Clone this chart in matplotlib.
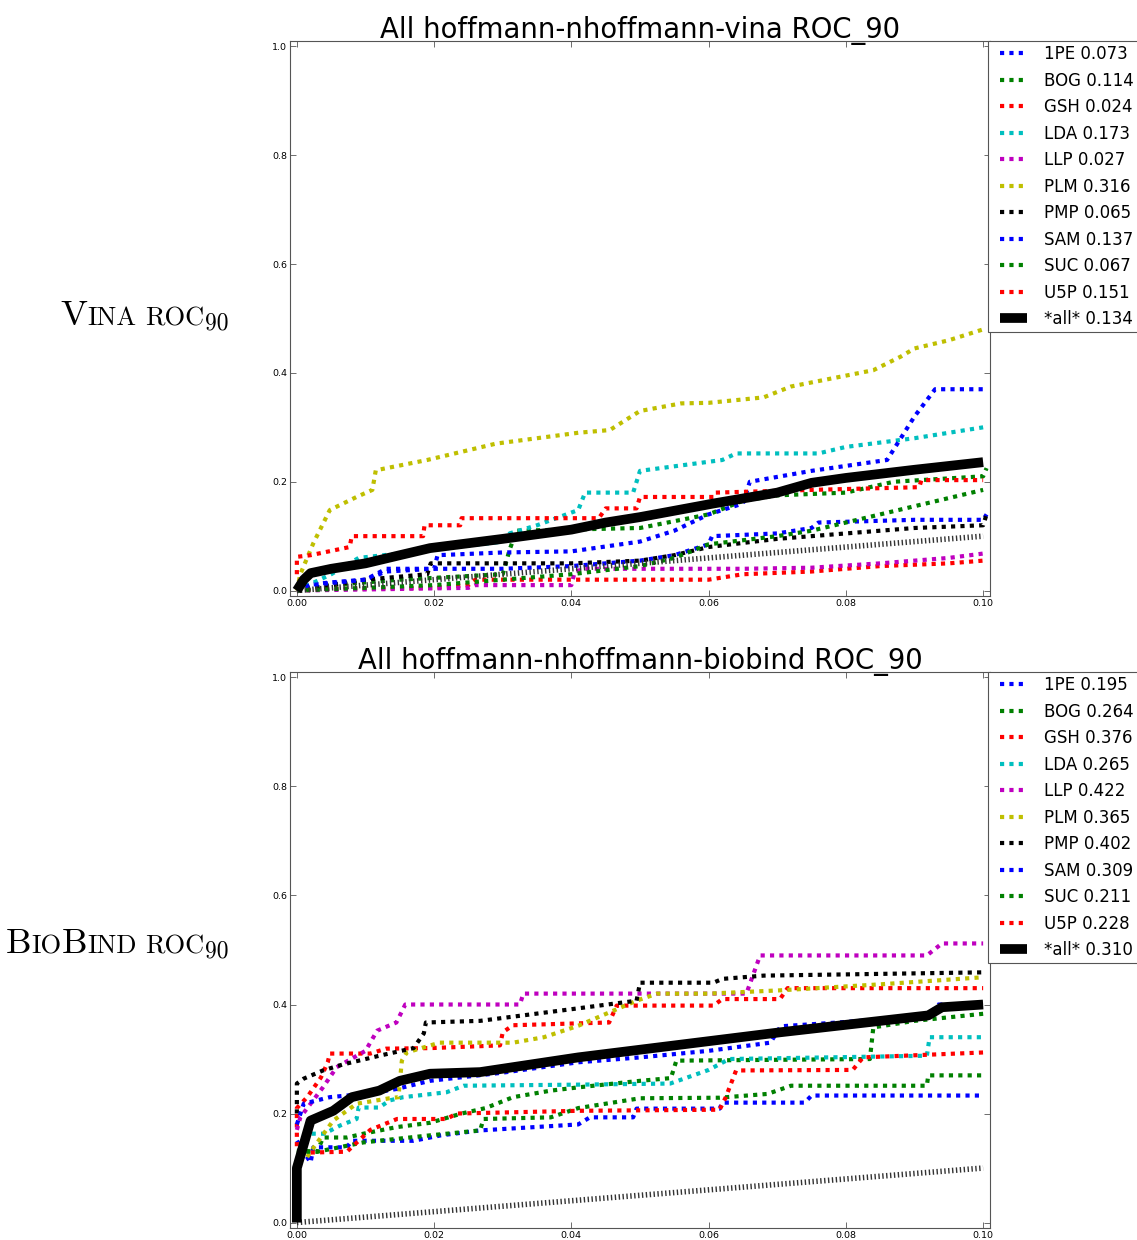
import matplotlib
matplotlib.use("Agg")
import matplotlib.pyplot as plt
from matplotlib.transforms import IdentityTransform
from matplotlib.legend_handler import HandlerLine2D
from matplotlib.lines import Line2D

# ---------------- data ----------------
names = ["1PE", "BOG", "GSH", "LDA", "LLP", "PLM", "PMP", "SAM", "SUC", "U5P"]
colors = ["#0000ff", "#008000", "#ff0000", "#00bfbf", "#bf00bf",
          "#bfbf00", "#000000", "#0000ff", "#008000", "#ff0000"]
vina_scores = [0.073, 0.114, 0.024, 0.173, 0.027, 0.316, 0.065, 0.137, 0.067, 0.151]
vina_all_score = 0.134
bio_scores = [0.195, 0.264, 0.376, 0.265, 0.422, 0.365, 0.402, 0.309, 0.211, 0.228]
bio_all_score = 0.310

xticks = [0.00, 0.02, 0.04, 0.06, 0.08, 0.10]
yticks = [0.0, 0.2, 0.4, 0.6, 0.8, 1.0]

# --- vina curves ---
vina_1PE_x = [0, 0.001, 0.005, 0.01, 0.013, 0.02, 0.03, 0.04, 0.045, 0.05, 0.055, 0.06, 0.0605, 0.07, 0.075, 0.076, 0.09, 0.1, 0.1005]
vina_1PE_y = [0, 0.01, 0.015, 0.02, 0.035, 0.04, 0.04, 0.045, 0.05, 0.055, 0.065, 0.085, 0.1, 0.105, 0.115, 0.125, 0.13, 0.13, 0.14]
vina_BOG_x = [0, 0.005, 0.015, 0.03, 0.031, 0.032, 0.05, 0.06, 0.065, 0.07, 0.08, 0.087, 0.1, 0.1005]
vina_BOG_y = [0, 0.01, 0.02, 0.03, 0.075, 0.11, 0.115, 0.14, 0.165, 0.175, 0.18, 0.2, 0.21, 0.225]
vina_GSH_x = [0, 0.005, 0.02, 0.025, 0.026, 0.06, 0.065, 0.075, 0.085, 0.095, 0.1]
vina_GSH_y = [0, 0.003, 0.005, 0.01, 0.02, 0.02, 0.03, 0.035, 0.045, 0.05, 0.055]
vina_LDA_x = [0, 0.005, 0.009, 0.02, 0.03, 0.031, 0.035, 0.041, 0.042, 0.049, 0.05, 0.062, 0.064, 0.076, 0.08, 0.09, 0.1]
vina_LDA_y = [0, 0.03, 0.06, 0.075, 0.09, 0.105, 0.12, 0.148, 0.18, 0.18, 0.22, 0.24, 0.252, 0.252, 0.264, 0.28, 0.30]
vina_LLP_x = [0, 0.01, 0.025, 0.026, 0.04, 0.0405, 0.042, 0.065, 0.075, 0.085, 0.095, 0.1]
vina_LLP_y = [0, 0.002, 0.005, 0.01, 0.01, 0.035, 0.04, 0.04, 0.042, 0.05, 0.06, 0.068]
vina_PLM_x = [0, 0.0005, 0.0024, 0.0048, 0.0087, 0.011, 0.0115, 0.019, 0.029, 0.041, 0.0456, 0.05, 0.056, 0.06, 0.068, 0.072, 0.078, 0.084, 0.088, 0.09, 0.095, 0.1]
vina_PLM_y = [0, 0.03, 0.087, 0.148, 0.172, 0.185, 0.221, 0.24, 0.27, 0.29, 0.295, 0.33, 0.344, 0.345, 0.355, 0.375, 0.39, 0.405, 0.43, 0.445, 0.46, 0.48]
vina_PMP_x = [0, 0.005, 0.01, 0.019, 0.0195, 0.04, 0.05, 0.055, 0.06, 0.07, 0.08, 0.09, 0.1, 0.1005]
vina_PMP_y = [0, 0.01, 0.02, 0.03, 0.05, 0.05, 0.055, 0.065, 0.08, 0.095, 0.105, 0.115, 0.12, 0.14]
vina_SAM_x = [0, 0.002, 0.01, 0.013, 0.02, 0.0205, 0.03, 0.04, 0.05, 0.055, 0.06, 0.065, 0.066, 0.075, 0.086, 0.088, 0.09, 0.093, 0.1]
vina_SAM_y = [0, 0.01, 0.02, 0.04, 0.04, 0.065, 0.07, 0.072, 0.09, 0.11, 0.14, 0.16, 0.2, 0.22, 0.24, 0.28, 0.32, 0.37, 0.37]
vina_SUC_x = [0, 0.01, 0.02, 0.03, 0.04, 0.05, 0.055, 0.06, 0.07, 0.075, 0.08, 0.085, 0.09, 0.1]
vina_SUC_y = [0, 0.005, 0.01, 0.02, 0.03, 0.045, 0.06, 0.085, 0.1, 0.11, 0.125, 0.14, 0.155, 0.185]
vina_U5P_x = [0, 0, 0.002, 0.0077, 0.008, 0.0184, 0.0186, 0.0238, 0.024, 0.044, 0.045, 0.0495, 0.05, 0.0607, 0.061, 0.075, 0.0907, 0.091, 0.1]
vina_U5P_y = [0.03, 0.062, 0.065, 0.08, 0.1, 0.1, 0.12, 0.12, 0.133, 0.133, 0.151, 0.151, 0.172, 0.172, 0.18, 0.185, 0.19, 0.203, 0.203]
vina_all_x = [0, 0.001, 0.002, 0.005, 0.01, 0.015, 0.0194, 0.03, 0.04, 0.045, 0.05, 0.0607, 0.07, 0.075, 0.08, 0.09, 0.1]
vina_all_y = [0, 0.02, 0.032, 0.04, 0.05, 0.065, 0.078, 0.095, 0.112, 0.125, 0.135, 0.16, 0.18, 0.198, 0.207, 0.222, 0.236]

# --- biobind curves ---
bio_1PE_x = [0, 0.002, 0.0024, 0.0073, 0.008, 0.017, 0.021, 0.0267, 0.041, 0.0427, 0.049, 0.0495, 0.0616, 0.062, 0.074, 0.075, 0.1]
bio_1PE_y = [0.15, 0.11, 0.138, 0.138, 0.15, 0.15, 0.16, 0.169, 0.18, 0.193, 0.193, 0.209, 0.209, 0.22, 0.22, 0.233, 0.233]
bio_BOG_x = [0, 0.003, 0.0038, 0.0073, 0.0097, 0.0145, 0.0194, 0.024, 0.0275, 0.0315, 0.037, 0.041, 0.05, 0.0545, 0.0553, 0.0835, 0.084, 0.09, 0.1]
bio_BOG_y = [0.132, 0.13, 0.156, 0.156, 0.163, 0.175, 0.183, 0.2, 0.21, 0.23, 0.242, 0.248, 0.26, 0.265, 0.297, 0.3, 0.358, 0.37, 0.383]
bio_GSH_x = [0, 0, 0.0015, 0.0035, 0.0045, 0.0048, 0.0107, 0.013, 0.0194, 0.0296, 0.030, 0.0315, 0.0455, 0.0466, 0.0607, 0.062, 0.0704, 0.0715, 0.1]
bio_GSH_y = [0.14, 0.21, 0.23, 0.266, 0.294, 0.31, 0.31, 0.319, 0.32, 0.325, 0.349, 0.362, 0.367, 0.398, 0.398, 0.41, 0.41, 0.43, 0.43]
bio_LDA_x = [0.0005, 0.0015, 0.004, 0.0063, 0.0087, 0.009, 0.012, 0.0135, 0.0155, 0.0218, 0.0243, 0.041, 0.0544, 0.06, 0.063, 0.0918, 0.0922, 0.1]
bio_LDA_y = [0.14, 0.163, 0.163, 0.178, 0.19, 0.211, 0.211, 0.224, 0.23, 0.239, 0.251, 0.253, 0.255, 0.28, 0.30, 0.306, 0.34, 0.34]
bio_LLP_x = [0, 0.0005, 0.0038, 0.0058, 0.010, 0.0117, 0.0145, 0.0158, 0.0325, 0.033, 0.0655, 0.0675, 0.0918, 0.094, 0.1]
bio_LLP_y = [0.17, 0.193, 0.248, 0.285, 0.315, 0.352, 0.367, 0.4, 0.4, 0.42, 0.42, 0.49, 0.49, 0.512, 0.512]
bio_PLM_x = [0.0015, 0.0024, 0.0035, 0.0053, 0.0087, 0.0135, 0.0148, 0.0153, 0.016, 0.0208, 0.0315, 0.036, 0.041, 0.0495, 0.0525, 0.06, 0.0704, 0.085, 0.1]
bio_PLM_y = [0.12, 0.137, 0.156, 0.187, 0.218, 0.228, 0.23, 0.297, 0.312, 0.33, 0.33, 0.34, 0.361, 0.407, 0.42, 0.42, 0.426, 0.437, 0.45]
bio_PMP_x = [0, 0, 0.001, 0.0038, 0.0067, 0.012, 0.017, 0.0185, 0.0188, 0.0267, 0.041, 0.0495, 0.050, 0.0607, 0.062, 0.068, 0.1]
bio_PMP_y = [0.2, 0.255, 0.264, 0.279, 0.29, 0.306, 0.32, 0.347, 0.367, 0.37, 0.393, 0.407, 0.44, 0.44, 0.447, 0.453, 0.459]
bio_SAM_x = [0, 0.001, 0.0048, 0.0073, 0.0097, 0.0145, 0.0194, 0.03, 0.041, 0.05, 0.06, 0.069, 0.0705, 0.08, 0.092, 0.0935, 0.1]
bio_SAM_y = [0.18, 0.218, 0.23, 0.233, 0.235, 0.245, 0.26, 0.275, 0.294, 0.303, 0.315, 0.33, 0.36, 0.368, 0.38, 0.4, 0.4]
bio_SUC_x = [0, 0.003, 0.0097, 0.0194, 0.0267, 0.0272, 0.037, 0.041, 0.05, 0.0616, 0.0686, 0.072, 0.0918, 0.092, 0.1]
bio_SUC_y = [0.13, 0.13, 0.147, 0.16, 0.169, 0.19, 0.193, 0.21, 0.228, 0.229, 0.236, 0.251, 0.251, 0.27, 0.27]
bio_U5P_x = [0, 0.0005, 0.0073, 0.0107, 0.0146, 0.0218, 0.0233, 0.041, 0.0616, 0.0625, 0.064, 0.081, 0.0825, 0.1]
bio_U5P_y = [0.114, 0.128, 0.13, 0.17, 0.19, 0.19, 0.2, 0.205, 0.207, 0.23, 0.279, 0.28, 0.303, 0.312]
bio_all_x = [0, 0, 0.002, 0.0053, 0.008, 0.012, 0.015, 0.0194, 0.0267, 0.041, 0.0704, 0.092, 0.094, 0.1]
bio_all_y = [0, 0.1, 0.187, 0.205, 0.23, 0.242, 0.26, 0.273, 0.276, 0.303, 0.349, 0.38, 0.395, 0.40]

diag_x = [0.0, 0.1]
diag_y = [0.0, 0.1]

vina_x = [vina_1PE_x, vina_BOG_x, vina_GSH_x, vina_LDA_x, vina_LLP_x, vina_PLM_x, vina_PMP_x, vina_SAM_x, vina_SUC_x, vina_U5P_x]
vina_y = [vina_1PE_y, vina_BOG_y, vina_GSH_y, vina_LDA_y, vina_LLP_y, vina_PLM_y, vina_PMP_y, vina_SAM_y, vina_SUC_y, vina_U5P_y]
bio_x = [bio_1PE_x, bio_BOG_x, bio_GSH_x, bio_LDA_x, bio_LLP_x, bio_PLM_x, bio_PMP_x, bio_SAM_x, bio_SUC_x, bio_U5P_x]
bio_y = [bio_1PE_y, bio_BOG_y, bio_GSH_y, bio_LDA_y, bio_LLP_y, bio_PLM_y, bio_PMP_y, bio_SAM_y, bio_SUC_y, bio_U5P_y]

# ---------------- figure ----------------
W, H = 1137, 1240
fig = plt.figure(figsize=(W / 100, H / 100), dpi=100)


def px_axes(left, top, right, bottom):
    return fig.add_axes([left / W, 1 - bottom / H, (right - left) / W, (bottom - top) / H])


ax1 = px_axes(290, 41, 990, 596)
ax2 = px_axes(290, 672, 990, 1228)


def draw_panel(ax, xs, ys, scores, all_x, all_y, all_score, title):
    for i in range(len(names)):
        ax.plot(xs[i], ys[i], color=colors[i], lw=3.0, linestyle=(0, (1, 1.25)),
                label=f"{names[i]} {scores[i]:.3f}")
    ax.plot(diag_x, diag_y, color="#333333", lw=4.0, linestyle=(0, (0.25, 0.45)))
    ax.plot(all_x, all_y, color="black", lw=7.0, solid_capstyle="butt",
            label=f"*all* {all_score:.3f}")
    ax.set_xlim(-0.001, 0.101)
    ax.set_ylim(-0.01, 1.01)
    ax.set_xticks(xticks)
    ax.set_xticklabels([f"{v:.2f}" for v in xticks])
    ax.set_yticks(yticks)
    ax.set_yticklabels([f"{v:.1f}" for v in yticks])
    ax.tick_params(direction="in", top=True, right=True, length=4, width=0.6,
                   labelsize=6.8, pad=2, color="#555555")
    for s in ax.spines.values():
        s.set_color("#555555")
        s.set_linewidth(0.8)
    ax.set_title(title, fontsize=19.8, pad=2)
    leg = ax.legend(loc="upper left", bbox_to_anchor=(0.997, 1.0), borderaxespad=0,
                    fontsize=12.0, handlelength=2.09, handletextpad=1.05,
                    labelspacing=0.51, fancybox=False, framealpha=1,
                    edgecolor="#555555", borderpad=0.25,
                    handler_map={Line2D: HandlerLine2D(xpad=0.45)})
    leg.get_frame().set_linewidth(0.8)


draw_panel(ax1, vina_x, vina_y, vina_scores, vina_all_x, vina_all_y, vina_all_score,
           "All hoffmann-nhoffmann-vina ROC_90")
draw_panel(ax2, bio_x, bio_y, bio_scores, bio_all_x, bio_all_y, bio_all_score,
           "All hoffmann-nhoffmann-biobind ROC_90")

# ---------------- small-caps row labels ----------------
renderer = fig.canvas.get_renderer()
BIG, SMALL, SUB = 26, 19, 17


def smallcaps(pieces, right_px, base_px):
    items = []
    total = 0.0
    for s, size, dy in pieces:
        t = fig.text(0, 0, s, fontsize=size, family="cmr10", ha="left", va="baseline",
                     transform=IdentityTransform())
        w = t.get_window_extent(renderer).width
        items.append((t, w, dy))
        total += w
    x = right_px - total
    for t, w, dy in items:
        t.set_position((x, H - base_px - dy))
        x += w


smallcaps([("V", BIG, 0), ("INA", SMALL, 0), (" ", SMALL, 0), ("ROC", SMALL, 0), ("90", SUB, 5)],
          228, 325)
smallcaps([("B", BIG, 0), ("IO", SMALL, 0), ("B", BIG, 0), ("IND", SMALL, 0), (" ", SMALL, 0),
           ("ROC", SMALL, 0), ("90", SUB, 5)], 228, 953)

fig.savefig("out.png", dpi=100)
